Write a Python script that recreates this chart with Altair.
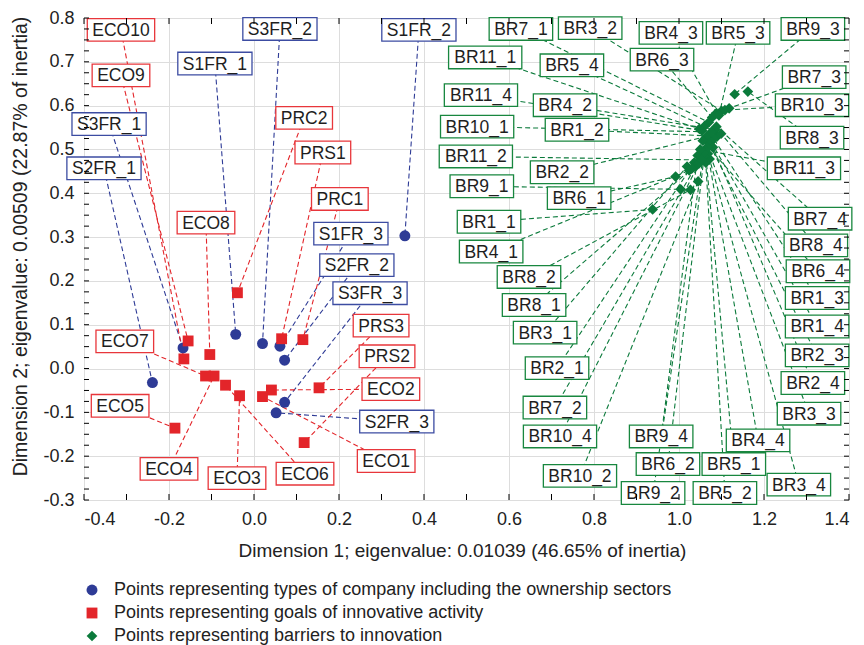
import altair as alt
import pandas as pd

# ---------------- data ----------------
company_labels = ["S1FR_1", "S1FR_2", "S1FR_3", "S2FR_1", "S2FR_2", "S2FR_3", "S3FR_1", "S3FR_2", "S3FR_3"]
company_x = [-0.043, 0.355, 0.061, -0.239, 0.072, 0.052, -0.167, 0.020, 0.072]
company_y = [0.078, 0.303, 0.051, -0.032, 0.019, -0.101, 0.047, 0.057, -0.077]
company_lx = [-0.092, 0.388, 0.228, -0.353, 0.242, 0.336, -0.341, 0.061, 0.273]
company_ly = [0.696, 0.773, 0.308, 0.457, 0.236, -0.121, 0.558, 0.775, 0.172]

goal_labels = ["ECO1", "ECO2", "ECO3", "ECO4", "ECO5", "ECO6", "ECO7", "ECO8", "ECO9", "ECO10",
               "PRC1", "PRC2", "PRS1", "PRS2", "PRS3"]
goal_x = [0.020, 0.041, -0.034, -0.094, -0.186, -0.067, -0.114, -0.104, -0.155, -0.165,
          0.115, -0.039, 0.065, 0.118, 0.153]
goal_y = [-0.064, -0.049, -0.062, -0.017, -0.136, -0.038, -0.017, 0.032, 0.063, 0.022,
          0.066, 0.173, 0.068, -0.169, -0.044]
goal_lx = [0.311, 0.322, -0.040, -0.200, -0.315, 0.120, -0.304, -0.113, -0.313, -0.313,
           0.202, 0.118, 0.162, 0.313, 0.299]
goal_ly = [-0.211, -0.047, -0.250, -0.229, -0.085, -0.240, 0.062, 0.333, 0.669, 0.773,
           0.387, 0.572, 0.493, 0.028, 0.098]

barrier_labels = ["BR1_1", "BR1_2", "BR1_3", "BR1_4", "BR2_1", "BR2_2", "BR2_3", "BR2_4",
                  "BR3_1", "BR3_2", "BR3_3", "BR3_4", "BR4_1", "BR4_2", "BR4_3", "BR4_4",
                  "BR5_1", "BR5_2", "BR5_3", "BR5_4", "BR6_1", "BR6_2", "BR6_3", "BR6_4",
                  "BR7_1", "BR7_2", "BR7_3", "BR7_4", "BR8_1", "BR8_2", "BR8_3", "BR8_4",
                  "BR9_1", "BR9_2", "BR9_3", "BR9_4", "BR10_1", "BR10_2", "BR10_3", "BR10_4",
                  "BR11_1", "BR11_2", "BR11_3", "BR11_4"]
barrier_x = [0.938, 1.090, 1.082, 1.075, 1.036, 1.065, 1.071, 1.080,
             1.019, 1.100, 1.066, 1.072, 1.024, 1.085, 1.088, 1.068,
             1.062, 1.063, 1.094, 1.060, 0.992, 1.059, 1.078, 1.056,
             1.070, 1.040, 1.118, 1.088, 1.030, 1.027, 1.162, 1.099,
             1.004, 1.058, 1.131, 1.044, 1.076, 1.045, 1.108, 1.047,
             1.048, 1.053, 1.050, 1.054]
barrier_y = [0.363, 0.530, 0.524, 0.518, 0.470, 0.530, 0.513, 0.505,
             0.461, 0.588, 0.505, 0.478, 0.452, 0.545, 0.583, 0.490,
             0.498, 0.470, 0.578, 0.553, 0.438, 0.484, 0.573, 0.520,
             0.562, 0.462, 0.594, 0.552, 0.456, 0.408, 0.632, 0.536,
             0.409, 0.492, 0.626, 0.486, 0.540, 0.427, 0.590, 0.468,
             0.547, 0.476, 0.500, 0.543]
barrier_lx = [0.553, 0.760, 1.325, 1.325, 0.713, 0.725, 1.325, 1.315,
              0.685, 0.791, 1.306, 1.282, 0.558, 0.732, 0.981, 1.186,
              1.129, 1.108, 1.139, 0.748, 0.765, 0.974, 0.960, 1.327,
              0.628, 0.708, 1.318, 1.332, 0.659, 0.647, 1.313, 1.322,
              0.536, 0.939, 1.315, 0.958, 0.525, 0.767, 1.313, 0.720,
              0.544, 0.522, 1.294, 0.534]
barrier_ly = [0.335, 0.545, 0.161, 0.096, 0.001, 0.448, 0.030, -0.033,
              0.082, 0.777, -0.103, -0.265, 0.267, 0.601, 0.766, -0.164,
              -0.218, -0.284, 0.766, 0.692, 0.389, -0.218, 0.705, 0.222,
              0.775, -0.089, 0.665, 0.342, 0.145, 0.209, 0.527, 0.281,
              0.416, -0.284, 0.775, -0.155, 0.552, -0.245, 0.601, -0.155,
              0.710, 0.484, 0.457, 0.624]

group_names = ["Points representing types of company including the ownership sectors",
               "Points representing goals of innovative activity",
               "Points representing barriers to innovation"]
group_colors = ["#2e3b96", "#e3252a", "#0b7a3b"]
box_colors = ["#3c4ca2", "#e8363b", "#18873f"]
group_shapes = ["circle", "square", "diamond"]
group_sizes = [120, 115, 64]

x_ticks = [-0.4, -0.2, 0.0, 0.2, 0.4, 0.6, 0.8, 1.0, 1.2, 1.4]
y_ticks = [-0.3, -0.2, -0.1, 0.0, 0.1, 0.2, 0.3, 0.4, 0.5, 0.6, 0.7, 0.8]

# ---------------- layout helpers ----------------
FONTFAM = "Liberation Sans"
W, H = 765, 482
XMIN, XMAX, YMIN, YMAX = -0.4, 1.4, -0.3, 0.8
DX = (XMAX - XMIN) / W
DY = (YMAX - YMIN) / H
FONT = 17.5
CHAR_W = {"B": 0.667, "R": 0.722, "E": 0.667, "C": 0.722, "O": 0.778, "S": 0.667,
          "F": 0.611, "P": 0.667, "_": 0.556}


def box_w(s):
    return sum(CHAR_W.get(c, 0.556) for c in s) * FONT + 10


rows = []
sets = [(company_labels, company_x, company_y, company_lx, company_ly),
        (goal_labels, goal_x, goal_y, goal_lx, goal_ly),
        (barrier_labels, barrier_x, barrier_y, barrier_lx, barrier_ly)]
for gi, (labs, xs, ys, lxs, lys) in enumerate(sets):
    for lab, x, y, lx, ly in zip(labs, xs, ys, lxs, lys):
        hw = box_w(lab) / 2 * DX
        hh = 11.3 * DY
        rows.append(dict(group=group_names[gi], label=lab, x=x, y=y, lx=lx, ly=ly,
                         bx1=lx - hw, bx2=lx + hw, by1=ly - hh, by2=ly + hh,
                         lc=group_colors[gi], bc=box_colors[gi]))
df = pd.DataFrame(rows)

xscale = alt.Scale(domain=[XMIN, XMAX], nice=False, zero=False)
yscale = alt.Scale(domain=[YMIN, YMAX], nice=False, zero=False)
XTITLE = "Dimension 1; eigenvalue: 0.01039 (46.65% of inertia)"
YTITLE = "Dimension 2; eigenvalue: 0.00509 (22.87% of inertia)"
LBL = "replace(format(datum.value, '.1f'), '\u2212', '-')"
xaxis = alt.Axis(values=x_ticks, labelExpr=LBL, grid=True, ticks=False, domain=False,
                 labelFontSize=18, labelPadding=10, labelColor="#222",
                 titleFontSize=19, titleFontWeight="normal", titleColor="#222",
                 titleX=378, titleY=50, titleBaseline="middle", titleAlign="center")
yaxis = alt.Axis(values=y_ticks, labelExpr=LBL, grid=True, ticks=False, domain=False,
                 labelFontSize=18, labelPadding=10, labelColor="#222",
                 titleFontSize=19.5, titleFontWeight="normal", titleColor="#222",
                 titleX=-64, titleY=228, titleAngle=-90, titleBaseline="middle",
                 titleAlign="center")


def X(f):
    return alt.X(f, type="quantitative", scale=xscale, axis=xaxis, title=XTITLE)


def Y(f):
    return alt.Y(f, type="quantitative", scale=yscale, axis=yaxis, title=YTITLE)


base = alt.Chart(df)

leaders = base.mark_rule(strokeDash=[5, 3], strokeWidth=1.1).encode(
    x=X("lx"), y=Y("ly"), x2="x:Q", y2="y:Q",
    color=alt.Color("lc:N", scale=None))

legend = alt.Legend(orient="none", legendX=-1, legendY=563, title=None,
                    labelFontSize=18, labelFont=FONTFAM, labelColor="#222",
                    symbolSize=75, rowPadding=5, labelOffset=13, labelLimit=800)
points = base.mark_point(filled=True, opacity=1).encode(
    x=X("x"), y=Y("y"),
    color=alt.Color("group:N", scale=alt.Scale(domain=group_names, range=group_colors),
                    legend=legend),
    shape=alt.Shape("group:N", scale=alt.Scale(domain=group_names, range=group_shapes),
                    legend=legend),
    size=alt.Size("group:N", scale=alt.Scale(domain=group_names, range=group_sizes),
                  legend=None))

boxes = base.mark_rect(fill="white", strokeWidth=1.3).encode(
    x=X("bx1"), x2="bx2:Q", y=Y("by1"), y2="by2:Q",
    stroke=alt.Stroke("bc:N", scale=None))

texts = base.mark_text(font=FONTFAM, fontSize=FONT, color="#1e1e1e",
                       align="center", baseline="middle", dy=1).encode(
    x=X("lx"), y=Y("ly"), text="label:N")

# inward frame ticks
xt_major = pd.DataFrame({"v": [-0.4, -0.3, -0.2, -0.1, 0.0, 0.1, 0.2, 0.3, 0.4, 0.5,
                               0.6, 0.7, 0.8, 0.9, 1.0, 1.1, 1.2, 1.3, 1.4]})
yt_vals = pd.DataFrame({"v": [round(-0.3 + 0.025 * i, 3) for i in range(45)]})
tick_layers = [
    alt.Chart(xt_major).mark_rule(color="black", strokeWidth=1).encode(
        x=X("v"), y=alt.value(H), y2=alt.value(H - 6)),
    alt.Chart(xt_major).mark_rule(color="black", strokeWidth=1).encode(
        x=X("v"), y=alt.value(0), y2=alt.value(6)),
    alt.Chart(yt_vals).mark_rule(color="black", strokeWidth=1).encode(
        y=Y("v"), x=alt.value(0), x2=alt.value(5)),
    alt.Chart(yt_vals).mark_rule(color="black", strokeWidth=1).encode(
        y=Y("v"), x=alt.value(W), x2=alt.value(W - 5)),
]

chart = alt.layer(leaders, points, boxes, texts, *tick_layers).properties(
    width=W, height=H,
    autosize=alt.AutoSizeParams(type="none"),
    padding={"left": 76, "top": 10, "right": 6, "bottom": 150},
).configure_view(stroke="black", strokeWidth=1.2).configure_axis(
    gridColor="#e6e6e6", gridWidth=1, labelFont=FONTFAM, titleFont=FONTFAM
).configure(background="white")

chart.save("out.html", embed_options={"renderer": "svg", "actions": False})
